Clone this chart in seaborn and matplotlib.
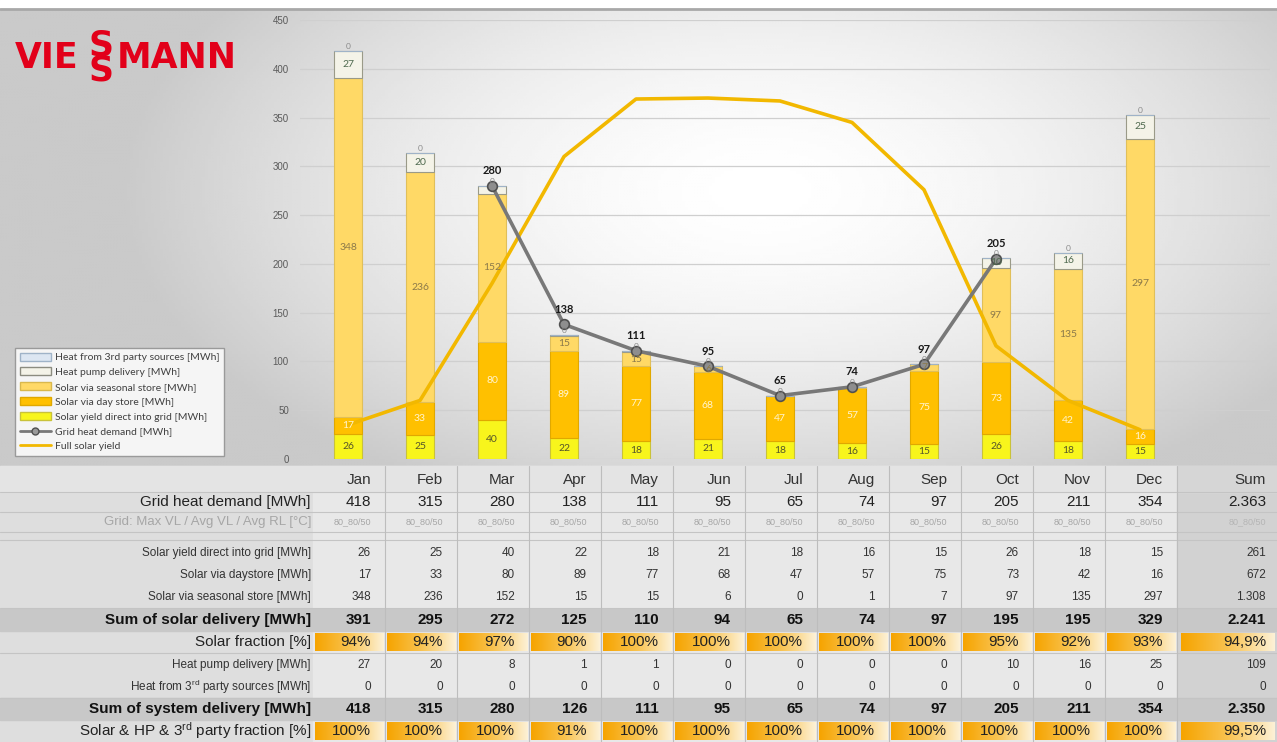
import numpy as np
import pandas as pd
import matplotlib
matplotlib.use("Agg")
import matplotlib.pyplot as plt
from matplotlib.patches import Rectangle, Patch
from matplotlib.lines import Line2D
from matplotlib.colors import LinearSegmentedColormap
import seaborn as sns

# ---- data ----
months = ["Jan", "Feb", "Mar", "Apr", "May", "Jun", "Jul", "Aug", "Sep", "Oct", "Nov", "Dec"]
solar_direct = [26, 25, 40, 22, 18, 21, 18, 16, 15, 26, 18, 15]
solar_day = [17, 33, 80, 89, 77, 68, 47, 57, 75, 73, 42, 16]
solar_seasonal = [348, 236, 152, 15, 15, 6, 0, 1, 7, 97, 135, 297]
heat_pump = [27, 20, 8, 1, 1, 0, 0, 0, 0, 10, 16, 25]
third_party = [0, 0, 0, 0, 0, 0, 0, 0, 0, 0, 0, 0]
grid_demand = [418, 315, 280, 138, 111, 95, 65, 74, 97, 205, 211, 354]
grid_demand_line = [np.nan, np.nan, 280, 138, 111, 95, 65, 74, 97, 205, np.nan, np.nan]
full_solar_yield = [35, 60, 180, 310, 369, 370, 367, 345, 276, 116, 60, 30]
grid_temps = ["80_80/50"] * 12
sum_solar = [391, 295, 272, 125, 110, 94, 65, 74, 97, 195, 195, 329]
solar_fraction = ["94%", "94%", "97%", "90%", "100%", "100%", "100%", "100%", "100%", "95%", "92%", "93%"]
sum_system = [418, 315, 280, 126, 111, 95, 65, 74, 97, 205, 211, 354]
total_fraction = ["100%", "100%", "100%", "91%", "100%", "100%", "100%", "100%", "100%", "100%", "100%", "100%"]
sum_column = ["2.363", "80_80/50", "261", "672", "1.308", "2.241", "94,9%", "109", "0", "2.350", "99,5%"]

df = pd.DataFrame({"month": months, "direct": solar_direct, "day": solar_day,
                   "seasonal": solar_seasonal, "hp": heat_pump, "third": third_party})

sns.set_style("white")
plt.rcParams["font.family"] = ["Liberation Sans", "DejaVu Sans"]
plt.rcParams["mathtext.fontset"] = "custom"
plt.rcParams["mathtext.rm"] = "Liberation Sans"
plt.rcParams["mathtext.default"] = "regular"

W, H = 1277, 742
fig = plt.figure(figsize=(W / 100, H / 100), dpi=100)
fig.patch.set_facecolor("#e2e2e2")

# pixel canvas for background, logo and table
canvas = fig.add_axes([0, 0, 1, 1], zorder=0)
gy, gx = np.mgrid[8:466:3, 0:W:3]
d = np.sqrt(((gx - 760) / 640.0) ** 2 + ((gy - 190) / 340.0) ** 2)
img = 1 - 0.21 * np.clip(d, 0, 1) ** 1.6
canvas.imshow(img, cmap="gray", vmin=0, vmax=1, extent=(0, W, 466, 8), aspect="auto", zorder=0)
canvas.add_patch(Rectangle((0, 0), W, 8, color="white", zorder=1))
canvas.plot([0, W], [9, 9], color="#a8a8a8", lw=2, zorder=1)
canvas.set_xlim(0, W)
canvas.set_ylim(H, 0)
canvas.axis("off")

# logo
red = "#e2001a"
canvas.text(15, 58, "VIE", fontsize=25, weight="bold", color=red, va="center", ha="left", family="DejaVu Sans")
canvas.text(101, 58, "S\nS", fontsize=25, weight="bold", color=red, va="center", ha="center",
            linespacing=0.7, family="DejaVu Sans")
canvas.text(117, 58, "MANN", fontsize=25, weight="bold", color=red, va="center", ha="left", family="DejaVu Sans")

# ---- chart ----
ax = fig.add_axes([300 / W, 1 - 459 / H, 970 / W, 439 / H], zorder=2)
ax.patch.set_alpha(0)

layers = [("direct", "#f8f51c", "#c9c23a"), ("day", "#ffc000", "#e0a800"),
          ("seasonal", "#ffd966", "#e0bf5a"), ("hp", "#f4f3e8", "#9a9a88"),
          ("third", "#dce6f2", "#9fb3c8")]
bottom = np.zeros(len(months))
for col, fc, ec in layers:
    sns.barplot(data=df, x="month", y=col, bottom=bottom.copy(), color=fc, edgecolor=ec,
                linewidth=0.8, width=0.4, saturation=1, errorbar=None, ax=ax, zorder=2)
    bottom += df[col].values

x = np.arange(len(months))
sns.lineplot(x=x, y=full_solar_yield, color="#f2b800", lw=2.6, ax=ax, zorder=3)
sns.lineplot(x=x, y=grid_demand_line, color="#787878", lw=2.6, marker="o", markersize=7,
             markerfacecolor="#8e8e8e", markeredgecolor="#505050", markeredgewidth=1.2, ax=ax, zorder=4)

lab_font = "Lato"
for i in range(len(months)):
    b0 = 0
    segs = [(solar_direct[i], "#55552a", 0), (solar_day[i], "#fff4d0", 2),
            (solar_seasonal[i], "#8c7a4a", 5), (heat_pump[i], "#4f6a4f", 8)]
    for v, c, thr in segs:
        if v > thr:
            ax.text(i, b0 + v / 2, str(v), ha="center", va="center", fontsize=7.5, color=c,
                    family=lab_font, zorder=5)
        b0 += v
    ax.text(i, b0 + 1, str(third_party[i]), ha="center", va="bottom", fontsize=6,
            color="#8a8a8a", family=lab_font, zorder=5)
    if not np.isnan(grid_demand_line[i]):
        ax.text(i, grid_demand_line[i] + 10, str(grid_demand[i]), ha="center", va="bottom",
                fontsize=8, weight="bold", color="#1a1a1a", family=lab_font, zorder=6)

ax.set_xlim((300 - 348) / 72, (1270 - 348) / 72)
ax.set_ylim(0, 450)
ax.set_yticks(range(0, 451, 50))
ax.yaxis.grid(True, color="#cfcfcf", lw=0.9)
ax.set_axisbelow(True)
ax.set_xticks([])
ax.set_xlabel("")
ax.set_ylabel("")
ax.tick_params(axis="y", length=0, labelsize=7, labelcolor="#5a5a5a", pad=8)
for s in ax.spines.values():
    s.set_visible(False)

handles = [Patch(fc="#dce6f2", ec="#9fb3c8"), Patch(fc="#f4f3e8", ec="#8c8c80"),
           Patch(fc="#ffd966", ec="#d9b84d"), Patch(fc="#ffc000", ec="#e0a800"),
           Patch(fc="#f8f51c", ec="#c9c23a"),
           Line2D([], [], color="#787878", lw=2, marker="o", ms=5, mfc="#9a9a9a", mec="#505050"),
           Line2D([], [], color="#f2b800", lw=2)]
labels = ["Heat from 3rd party sources [MWh]", "Heat pump delivery [MWh]",
          "Solar via seasonal store [MWh]", "Solar via day store [MWh]",
          "Solar yield direct into grid [MWh]", "Grid heat demand [MWh]", "Full solar yield"]
fig.legend(handles, labels, loc="upper left", bbox_to_anchor=(15 / W, 1 - 348 / H),
           frameon=True, fancybox=False, edgecolor="#9a9a9a", facecolor="#f5f5f5", framealpha=1,
           handlelength=3.0, handleheight=0.8, labelspacing=0.5, borderpad=0.45,
           handletextpad=0.4, borderaxespad=0, labelcolor="#404040",
           prop={"family": lab_font, "size": 7.5})

# ---- table ----
col_left = [313 + 72 * i for i in range(12)]
sum_left, sum_right = 1177, 1277
canvas.add_patch(Rectangle((0, 466), 313, H - 466, color="#dedede", zorder=1))
canvas.add_patch(Rectangle((313, 466), 864, H - 466, color="#e8e8e8", zorder=1))
canvas.add_patch(Rectangle((sum_left, 466), sum_right - sum_left, H - 466, color="#d2d2d2", zorder=1))

frac_cmap = LinearSegmentedColormap.from_list("frac", ["#f6a400", "#f9c350", "#fdf1d6"])
grad = np.linspace(0, 1, 64).reshape(1, -1)

rows = [
    # label, values, top, bottom, label size, value size, weight, color, kind
    ("Grid heat demand [MWh]", grid_demand, 492, 512, 11, 11, "normal", "#222222", "plain"),
    ("Grid: Max VL / Avg VL / Avg RL [°C]", grid_temps, 512, 532, 9.5, 6.5, "normal", "#a6a6a6", "plain"),
    ("Solar yield direct into grid [MWh]", solar_direct, 542, 564, 8.5, 8.5, "normal", "#333333", "plain"),
    ("Solar via daystore [MWh]", solar_day, 564, 586, 8.5, 8.5, "normal", "#333333", "plain"),
    ("Solar via seasonal store [MWh]", solar_seasonal, 586, 608, 8.5, 8.5, "normal", "#333333", "plain"),
    ("Sum of solar delivery [MWh]", sum_solar, 609, 631, 11, 11, "bold", "#111111", "bold"),
    ("Solar fraction [%]", solar_fraction, 631, 653, 11, 11, "normal", "#222222", "frac"),
    ("Heat pump delivery [MWh]", heat_pump, 654, 676, 8.5, 8.5, "normal", "#333333", "plain"),
    ("Heat from 3$^{rd}$ party sources [MWh]", third_party, 676, 698, 8.5, 8.5, "normal", "#333333", "plain"),
    ("Sum of system delivery [MWh]", sum_system, 698, 720, 11, 11, "bold", "#111111", "bold"),
    ("Solar & HP & 3$^{rd}$ party fraction [%]", total_fraction, 720, 742, 11, 11, "normal", "#222222", "frac"),
]

# header
canvas.add_patch(Rectangle((0, 466), W, 26, color="#e4e4e4", zorder=1))
canvas.add_patch(Rectangle((sum_left, 466), sum_right - sum_left, 26, color="#d6d6d6", zorder=1))
for i, m in enumerate(months):
    canvas.text(col_left[i] + 58, 480, m, ha="right", va="center", fontsize=11, color="#333333", zorder=3)
canvas.text(1266, 480, "Sum", ha="right", va="center", fontsize=11, color="#333333", zorder=3)

for r, (label, vals, top, bot, lsz, vsz, wt, colr, kind) in enumerate(rows):
    yc = (top + bot) / 2
    if kind == "bold":
        canvas.add_patch(Rectangle((0, top), W, bot - top, color="#c8c8c8", zorder=1))
    if kind == "frac":
        for i in range(12):
            canvas.imshow(grad, cmap=frac_cmap, extent=(col_left[i] + 2, col_left[i] + 71, bot - 2, top + 2),
                          aspect="auto", zorder=2)
        canvas.imshow(grad, cmap=frac_cmap, extent=(sum_left + 4, sum_right - 2, bot - 2, top + 2),
                      aspect="auto", zorder=2)
    canvas.text(311, yc, label, ha="right", va="center", fontsize=lsz, weight=wt, color=colr, zorder=3)
    for i, v in enumerate(vals):
        canvas.text(col_left[i] + 58, yc, str(v), ha="right", va="center", fontsize=vsz,
                    weight=wt, color=colr, zorder=3)
    scol = "#b5b5b5" if r == 1 else colr
    canvas.text(1266, yc, sum_column[r], ha="right", va="center", fontsize=vsz, weight=wt,
                color=scol, zorder=3)

for yl in [492, 512, 532, 540, 608, 653, 698]:
    canvas.plot([0, W], [yl, yl], color="#c4c4c4", lw=0.8, zorder=2)
for i in range(1, 12):
    canvas.plot([col_left[i], col_left[i]], [466, H], color="#bdbdbd", lw=0.8, zorder=2)
canvas.plot([sum_left, sum_left], [466, H], color="#bdbdbd", lw=0.8, zorder=2)
canvas.set_xlim(0, W)
canvas.set_ylim(H, 0)

fig.savefig("out.png", dpi=100, facecolor=fig.get_facecolor())
